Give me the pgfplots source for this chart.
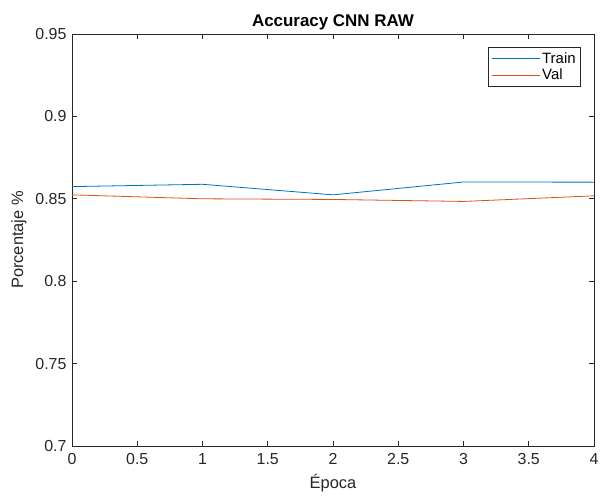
\documentclass[border=0pt]{standalone}
\usepackage{pgfplots}
\pgfplotsset{compat=1.18}
\usepackage{fontspec}
\setmainfont{Liberation Sans}
\definecolor{mblue}{rgb}{0,0.447,0.741}
\definecolor{morange}{rgb}{0.85,0.325,0.098}
\definecolor{axgray}{rgb}{0.15,0.15,0.15}
\begin{document}
\begin{tikzpicture}
\begin{axis}[
  at={(0,0)}, anchor=south west,
  scale only axis,
  width=522bp, height=412bp,
  xmin=0, xmax=4, ymin=0.7, ymax=0.95,
  xtick={0,0.5,...,4},
  ytick={0.7,0.75,0.8,0.85,0.9,0.95},
  yticklabel style={/pgf/number format/fixed,/pgf/number format/precision=2, xshift=-2bp},
  xticklabel style={/pgf/number format/fixed,/pgf/number format/precision=1, yshift=-4bp},
  /pgf/number format/assume math mode=true,
  tick align=inside,
  major tick length=5bp,
  axis line style={axgray, line width=0.6bp},
  every tick/.style={axgray, line width=0.6bp},
  tick label style={font=\fontsize{16}{18}\selectfont, text=axgray},
  title={\textbf{Accuracy CNN RAW}},
  title style={font=\fontsize{17}{19}\selectfont, yshift=-6bp},
  xlabel={Época},
  ylabel={Porcentaje \%},
  label style={font=\fontsize{16.5}{18}\selectfont, text=axgray},
  xlabel style={yshift=-3bp},
  ylabel style={yshift=2bp},
  legend style={at={(0.975,0.968)}, anchor=north east, draw=axgray, line width=0.6bp,
    font=\fontsize{15}{17}\selectfont, row sep=0bp, inner xsep=3bp, inner ysep=3bp},
  legend cell align=left,
  legend image code/.code={\draw[mark repeat=2,mark phase=2,#1] plot coordinates {(0bp,0bp) (24bp,0bp) (48bp,0bp)};},
]
\addplot[mblue, line width=0.8bp] coordinates {
  (0,0.8574) (1,0.8588) (2,0.8524) (3,0.8602) (4,0.8601)
};
\addlegendentry{Train}
\addplot[morange, line width=0.8bp] coordinates {
  (0,0.8524) (1,0.8500) (2,0.8496) (3,0.8484) (4,0.8518)
};
\addlegendentry{Val}
\end{axis}
\pgfresetboundingbox
\path[use as bounding box] (-72bp,-51bp) rectangle (531bp,446bp);
\end{tikzpicture}
\end{document}
